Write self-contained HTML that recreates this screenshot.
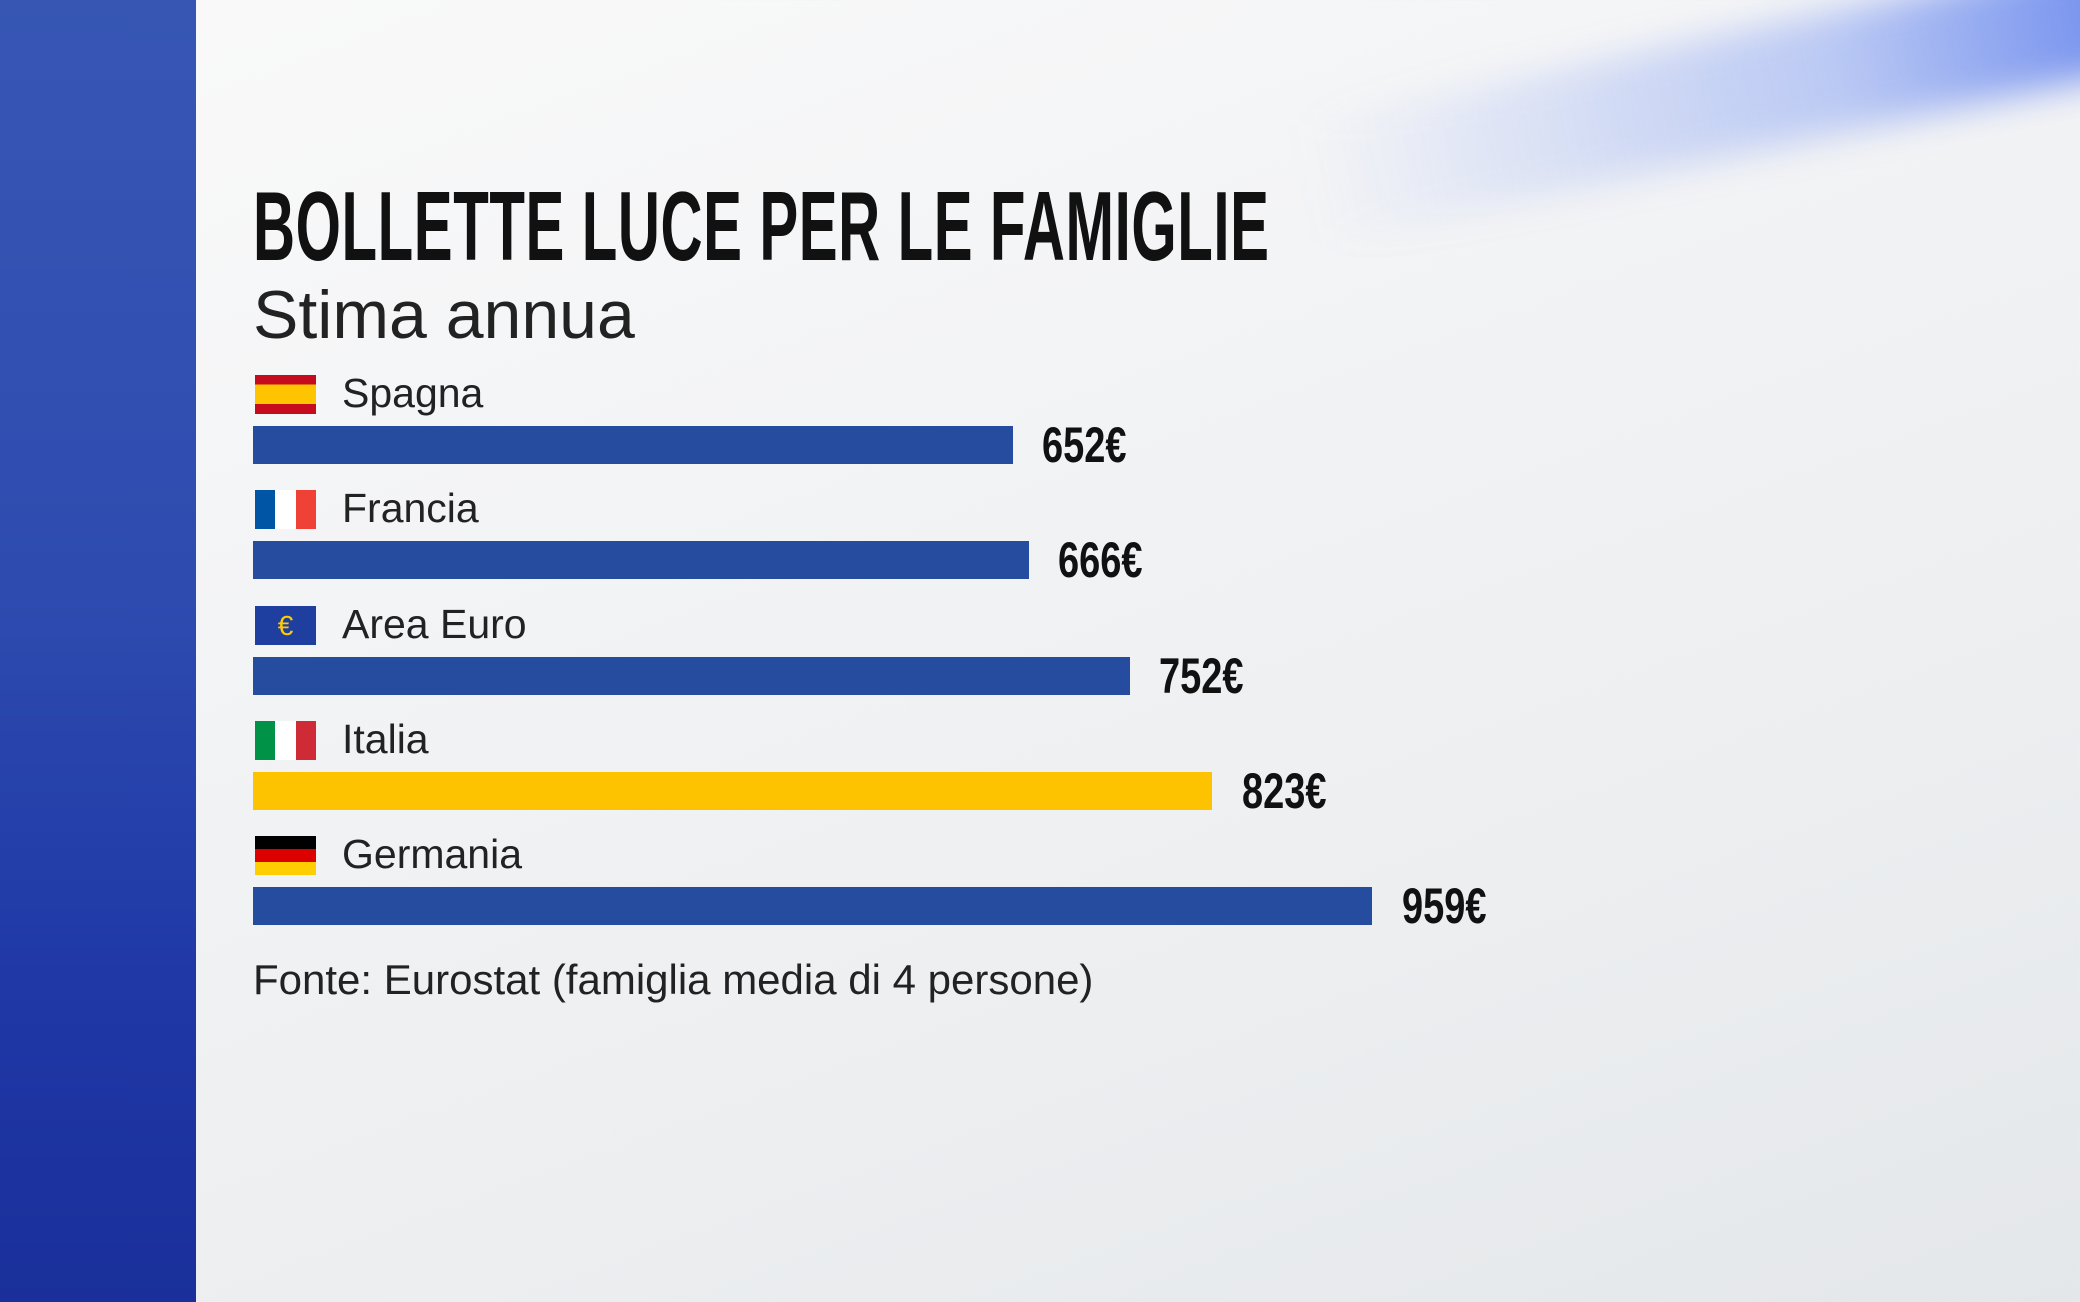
<!DOCTYPE html>
<html><head><meta charset="utf-8"><style>
*{margin:0;padding:0;box-sizing:border-box}
body{width:2080px;height:1302px;overflow:hidden;position:relative;font-family:"Liberation Sans",sans-serif;
background:linear-gradient(160deg,#fafafa 0%,#f2f3f5 40%,#eceef0 70%,#e4e7ea 100%);}
.streak{position:absolute;left:1300px;top:30px;width:900px;height:120px;transform:rotate(-12deg);
background:linear-gradient(90deg,rgba(80,120,240,0) 0%,rgba(80,120,240,.35) 60%,rgba(60,100,235,.8) 100%);filter:blur(18px)}
.panel{position:absolute;left:0;top:0;width:196px;height:1302px;background:linear-gradient(180deg,#3756b4 0%,#2e4cb0 45%,#1f38a6 75%,#1a2f9a 100%)}
.title{position:absolute;left:253px;top:176px;font-weight:bold;font-size:98px;line-height:100px;color:#111;transform:scaleX(0.594);transform-origin:left top;white-space:nowrap;letter-spacing:1px}
.sub{position:absolute;left:253px;top:276px;font-size:68px;color:#222;white-space:nowrap}
.flag{position:absolute;left:255px;width:61px;height:39px}
.lab{position:absolute;left:342px;font-size:41px;color:#222;line-height:48px}
.bar{position:absolute;left:253px;height:38px;background:#264ca0}
.val{position:absolute;font-weight:bold;font-size:50px;line-height:50px;color:#111;transform:scaleX(0.76);transform-origin:left top}
.src{position:absolute;left:253px;top:956px;font-size:42px;color:#222}
</style></head><body>
<div class="streak"></div>
<div class="panel"></div>
<div class="title">BOLLETTE LUCE PER LE FAMIGLIE</div>
<div class="sub">Stima annua</div>

<div class="flag" style="top:375px;background:linear-gradient(#c60b1e 0 25%,#ffc400 25% 75%,#c60b1e 75%)"></div>
<div class="lab" style="top:369px">Spagna</div>
<div class="bar" style="top:426px;width:760px"></div>
<div class="val" style="left:1042px;top:420px">652€</div>

<div class="flag" style="top:490px;background:linear-gradient(90deg,#0055a4 0 33%,#fff 33% 67%,#ef4135 67%)"></div>
<div class="lab" style="top:484px">Francia</div>
<div class="bar" style="top:541px;width:776px"></div>
<div class="val" style="left:1058px;top:535px">666€</div>

<div class="flag" style="top:606px;background:#1f3fa0;color:#ffcc00;font-size:28px;text-align:center;line-height:39px">€</div>
<div class="lab" style="top:600px">Area Euro</div>
<div class="bar" style="top:657px;width:877px"></div>
<div class="val" style="left:1159px;top:651px">752€</div>

<div class="flag" style="top:721px;background:linear-gradient(90deg,#009246 0 33%,#fff 33% 67%,#ce2b37 67%)"></div>
<div class="lab" style="top:715px">Italia</div>
<div class="bar" style="top:772px;width:959px;background:#fdc300"></div>
<div class="val" style="left:1242px;top:766px">823€</div>

<div class="flag" style="top:836px;background:linear-gradient(#000 0 33%,#dd0000 33% 67%,#ffce00 67%)"></div>
<div class="lab" style="top:830px">Germania</div>
<div class="bar" style="top:887px;width:1119px"></div>
<div class="val" style="left:1402px;top:881px">959€</div>

<div class="src">Fonte: Eurostat (famiglia media di 4 persone)</div>
</body></html>
